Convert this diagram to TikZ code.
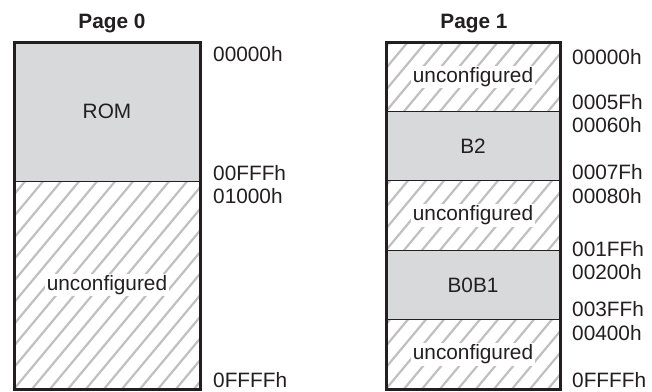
\documentclass[tikz,border=0pt]{standalone}
\usepackage{fontspec}
\setmainfont{Liberation Sans}
\usetikzlibrary{fit,calc}
\definecolor{romgray}{RGB}{216,217,219}
\definecolor{hatchgray}{RGB}{192,192,192}
\definecolor{ink}{RGB}{35,31,32}
\tikzset{
  seg/.style={draw=ink, line width=1pt, anchor=north west, inner sep=0pt, outer sep=0pt,
    minimum width=#1, text=ink, font=\fontsize{20.8}{24}\selectfont},
  solidseg/.style={seg=#1, fill=romgray},
  hatchseg/.style={seg=#1, fill=white,
    path picture={
      \foreach \k in {-40,...,40}
        \draw[hatchgray, line width=2.2pt]
          ($(path picture bounding box.south west)+(\k*18pt,0pt)$) -- ++(300pt,360pt);
    }},
  ulabel/.style={fill=white, inner sep=1.5pt, text=ink, font=\fontsize{20.8}{24}\selectfont},
  frame/.style={draw=ink, line width=3pt, inner sep=0pt, outer sep=0pt},
  addr/.style={anchor=west, inner sep=0pt, text=ink, font=\fontsize{20.8}{24}\selectfont},
  title/.style={anchor=base, inner sep=0pt, text=ink, font=\fontsize{20.8}{24}\selectfont\bfseries}
}
\begin{document}
\begin{tikzpicture}[x=1pt, y=-1pt]
\useasboundingbox[fill=white] (0,0) rectangle (652,391);
% Page 0
\node[title] (t0) at (112,28) {Page 0};
\node[solidseg=186pt, minimum height=139pt] (rom) at (14,42) {ROM};
\node[hatchseg=186pt, minimum height=208pt] (p0u) at (14,181) {};
\node[ulabel] (p0ul) at (p0u.center) {unconfigured};
\node[frame, fit=(rom)(p0u)] (f0) {};
\node[addr] (a00) at (213,54) {00000h};
\node[addr] (a01) at (213,173.5) {00FFFh};
\node[addr] (a02) at (213,196) {01000h};
\node[addr] (a03) at (213,380.5) {0FFFFh};
% Page 1
\node[title] (t1) at (474,28) {Page 1};
\node[hatchseg=174pt, minimum height=69.4pt] (u1) at (386,42) {};
\node[ulabel] (u1l) at (u1.center) {unconfigured};
\node[solidseg=174pt, minimum height=69.4pt] (b2) at (386,111.4) {B2};
\node[hatchseg=174pt, minimum height=69.4pt] (u2) at (386,180.8) {};
\node[ulabel] (u2l) at (u2.center) {unconfigured};
\node[solidseg=174pt, minimum height=69.4pt] (b01) at (386,250.2) {B0B1};
\node[hatchseg=174pt, minimum height=69.4pt] (u3) at (386,319.6) {};
\node[ulabel] (u3l) at (u3.center) {unconfigured};
\node[frame, fit=(u1)(u3)] (f1) {};
\node[addr] (b00) at (572,57) {00000h};
\node[addr] (b01a) at (572,102) {0005Fh};
\node[addr] (b02) at (572,125) {00060h};
\node[addr] (b03) at (572,172) {0007Fh};
\node[addr] (b04) at (572,196) {00080h};
\node[addr] (b05) at (572,249) {001FFh};
\node[addr] (b06) at (572,272) {00200h};
\node[addr] (b07) at (572,309) {003FFh};
\node[addr] (b08) at (572,333) {00400h};
\node[addr] (b09) at (572,380.5) {0FFFFh};
\end{tikzpicture}
\end{document}
